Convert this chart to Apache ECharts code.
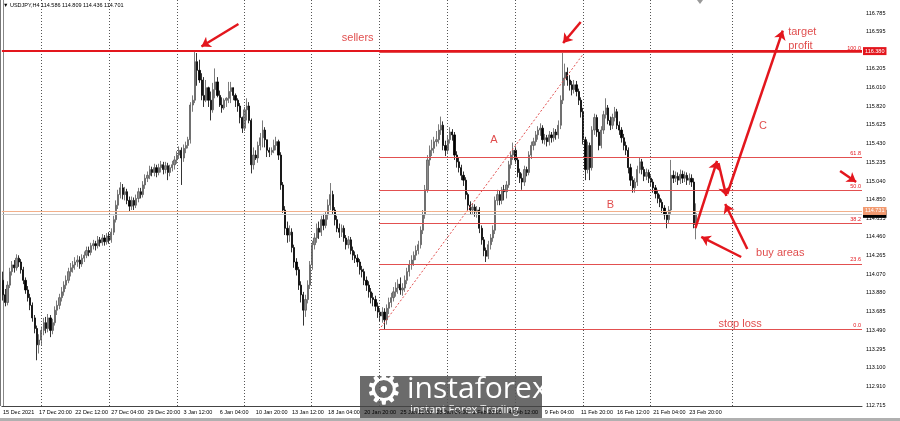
<!DOCTYPE html>
<html><head><meta charset="utf-8">
<script src="https://cdn.jsdelivr.net/npm/echarts@6/dist/echarts.min.js"></script>
<style>html,body{margin:0;padding:0;background:#fff}#c{width:900px;height:421px}</style>
</head><body><div id="c"></div>
<script>
// ---------- DATA ----------
const headerText = '\u25BC USDJPY,H4 114.586 114.809 114.436 114.701';
const totalSlots = 381;           // bar slots on the time axis (incl. chart shift)
const barsPerLabel = 16;
const timeLabels = ['15 Dec 2021','17 Dec 20:00','22 Dec 12:00','27 Dec 04:00','29 Dec 20:00','3 Jan 12:00','6 Jan 04:00','10 Jan 20:00','13 Jan 12:00','18 Jan 04:00','20 Jan 20:00','25 Jan 12:00','28 Jan 04:00','1 Feb 20:00','4 Feb 12:00','9 Feb 04:00','11 Feb 20:00','16 Feb 12:00','21 Feb 04:00','23 Feb 20:00'];
const priceTicks = ['112.715','112.910','113.100','113.295','113.490','113.685','113.880','114.070','114.265','114.460','114.655','114.850','115.040','115.235','115.430','115.625','115.820','116.010','116.205','116.400','116.595','116.785'];
const priceMin = 112.705, priceMax = 116.9205;
// [open, close, low, high]
const candles = [
[114.01,113.86,113.80,114.10],[113.86,113.78,113.74,113.92],[113.78,113.96,113.75,114.00],[113.96,114.10,113.93,114.14],[114.10,114.17,114.06,114.21],
[114.17,114.14,114.09,114.22],[114.14,114.24,114.11,114.28],[114.24,114.20,114.15,114.27],[114.20,114.12,114.08,114.23],[114.12,114.01,113.97,114.15],
[114.01,113.91,113.87,114.04],[113.91,113.83,113.79,113.95],[113.83,113.75,113.70,113.87],[113.75,113.62,113.58,113.78],[113.62,113.51,113.46,113.65],
[113.51,113.34,113.18,113.54],[113.34,113.39,113.25,113.45],[113.39,113.49,113.33,113.53],[113.49,113.57,113.44,113.62],[113.57,113.51,113.46,113.63],
[113.51,113.62,113.47,113.66],[113.62,113.49,113.42,113.65],[113.49,113.57,113.45,113.61],[113.57,113.70,113.54,113.74],[113.70,113.75,113.65,113.80],
[113.75,113.83,113.71,113.87],[113.83,113.89,113.79,113.94],[113.89,113.96,113.85,114.00],[113.96,114.01,113.92,114.06],[114.01,114.10,113.98,114.14],
[114.10,114.14,114.05,114.19],[114.14,114.17,114.09,114.21],[114.17,114.20,114.12,114.25],[114.20,114.22,114.15,114.27],[114.22,114.18,114.13,114.26],
[114.18,114.24,114.15,114.28],[114.24,114.27,114.20,114.31],[114.27,114.32,114.24,114.36],[114.32,114.30,114.26,114.36],[114.30,114.37,114.27,114.40],
[114.37,114.39,114.33,114.43],[114.39,114.37,114.32,114.42],[114.37,114.43,114.34,114.47],[114.43,114.40,114.36,114.46],[114.40,114.45,114.37,114.49],
[114.45,114.41,114.37,114.48],[114.41,114.47,114.38,114.50],[114.47,114.43,114.39,114.51],[114.43,114.51,114.40,114.55],[114.51,114.64,114.48,114.68],
[114.64,114.79,114.61,114.84],[114.79,114.90,114.75,114.95],[114.90,114.97,114.86,115.03],[114.97,114.90,114.85,115.01],[114.90,114.93,114.84,114.98],
[114.93,114.84,114.80,114.96],[114.84,114.78,114.72,114.88],[114.78,114.84,114.74,114.88],[114.84,114.79,114.74,114.87],[114.79,114.86,114.76,114.90],
[114.86,114.93,114.82,114.97],[114.93,114.90,114.86,114.97],[114.90,115.00,114.87,115.04],[115.00,115.07,114.96,115.11],[115.07,115.10,115.03,115.14],
[115.10,115.16,115.06,115.20],[115.16,115.13,115.09,115.19],[115.13,115.18,115.09,115.22],[115.18,115.13,115.08,115.21],[115.13,115.18,115.10,115.22],
[115.18,115.21,115.13,115.25],[115.21,115.16,115.11,115.24],[115.16,115.20,115.12,115.24],[115.20,115.13,115.05,115.23],[115.13,115.18,115.09,115.21],
[115.18,115.21,115.14,115.25],[115.21,115.26,115.16,115.30],[115.26,115.31,115.22,115.35],[115.31,115.36,115.27,115.40],[115.36,115.28,115.00,115.39],
[115.28,115.38,115.24,115.42],[115.38,115.41,115.33,115.45],[115.41,115.47,115.38,115.50],[115.47,115.83,115.43,115.86],[115.83,115.88,115.76,115.93],
[115.88,116.28,115.85,116.38],[116.28,116.19,116.03,116.37],[116.19,116.09,116.06,116.30],[116.09,115.93,115.88,116.16],[115.93,115.88,115.81,116.12],
[115.88,116.01,115.86,116.09],[116.01,115.88,115.81,116.02],[115.88,115.78,115.67,115.97],[115.78,115.99,115.75,116.06],[115.99,116.07,115.90,116.21],
[116.07,115.93,115.91,116.12],[115.93,115.83,115.81,115.98],[115.83,115.80,115.75,115.91],[115.80,115.88,115.78,115.90],[115.88,115.90,115.81,115.91],
[115.90,115.97,115.85,116.07],[115.97,116.01,115.85,116.07],[116.01,115.93,115.88,115.99],[115.93,115.88,115.81,115.95],[115.88,115.82,115.76,115.90],
[115.82,115.70,115.64,115.85],[115.70,115.59,115.54,115.71],[115.59,115.78,115.56,115.81],[115.78,115.82,115.67,115.90],[115.82,115.67,115.64,115.86],
[115.67,115.21,115.12,115.69],[115.21,115.31,115.16,115.39],[115.31,115.28,115.26,115.36],[115.28,115.41,115.23,115.45],[115.41,115.49,115.36,115.54],
[115.49,115.57,115.39,115.67],[115.57,115.47,115.39,115.60],[115.47,115.36,115.29,115.47],[115.36,115.34,115.29,115.39],[115.34,115.36,115.31,115.39],
[115.36,115.41,115.33,115.47],[115.41,115.45,115.36,115.50],[115.45,115.31,115.26,115.47],[115.31,115.00,114.95,115.34],[115.00,114.74,114.71,115.03],
[114.74,114.55,114.48,114.78],[114.55,114.48,114.40,114.62],[114.48,114.51,114.41,114.58],[114.51,114.35,114.30,114.55],[114.35,114.20,114.14,114.38],
[114.20,114.12,114.06,114.24],[114.12,113.96,113.91,114.15],[113.96,113.86,113.78,114.00],[113.86,113.70,113.54,113.89],[113.70,113.81,113.63,113.86],
[113.81,113.96,113.77,114.01],[113.96,114.17,113.92,114.21],[114.17,114.38,114.12,114.42],[114.38,114.45,114.33,114.50],[114.45,114.55,114.40,114.60],
[114.55,114.51,114.44,114.62],[114.51,114.64,114.47,114.68],[114.64,114.58,114.53,114.70],[114.58,114.69,114.55,114.73],[114.69,114.79,114.64,114.85],
[114.79,114.90,114.74,115.02],[114.90,114.74,114.70,114.94],[114.74,114.64,114.58,114.77],[114.64,114.55,114.51,114.68],[114.55,114.51,114.45,114.60],
[114.51,114.55,114.46,114.59],[114.55,114.45,114.41,114.58],[114.45,114.38,114.33,114.48],[114.38,114.43,114.34,114.47],[114.43,114.32,114.28,114.46],
[114.32,114.27,114.22,114.36],[114.27,114.24,114.19,114.31],[114.24,114.20,114.15,114.28],[114.20,114.12,114.07,114.23],[114.12,114.10,114.04,114.16],
[114.10,114.01,113.96,114.13],[114.01,113.96,113.90,114.05],[113.96,113.89,113.83,114.00],[113.89,113.83,113.77,113.93],[113.83,113.81,113.74,113.88],
[113.81,113.74,113.69,113.85],[113.74,113.68,113.62,113.78],[113.68,113.64,113.58,113.72],[113.64,113.68,113.57,113.73],[113.68,113.60,113.50,113.72],
[113.60,113.72,113.55,113.76],[113.72,113.78,113.66,113.83],[113.78,113.83,113.73,113.88],[113.83,113.89,113.79,113.94],[113.89,113.93,113.84,113.99],
[113.93,113.97,113.87,114.02],[113.97,113.91,113.86,114.04],[113.91,113.93,113.85,113.98],[113.93,114.01,113.89,114.06],[114.01,114.10,113.97,114.14],
[114.10,114.17,114.05,114.22],[114.17,114.22,114.12,114.27],[114.22,114.27,114.16,114.31],[114.27,114.32,114.22,114.37],[114.32,114.38,114.28,114.42],
[114.38,114.53,114.34,114.57],[114.53,114.69,114.49,114.74],[114.69,114.95,114.65,115.00],[114.95,115.26,114.92,115.31],[115.26,115.36,115.20,115.41],
[115.36,115.38,115.30,115.47],[115.38,115.45,115.33,115.50],[115.45,115.47,115.40,115.56],[115.47,115.57,115.43,115.63],[115.57,115.62,115.52,115.71],
[115.62,115.41,115.36,115.66],[115.41,115.36,115.30,115.46],[115.36,115.47,115.32,115.51],[115.47,115.55,115.43,115.60],[115.55,115.52,115.46,115.58],
[115.52,115.31,115.26,115.55],[115.31,115.24,115.18,115.35],[115.24,115.18,115.13,115.28],[115.18,115.10,115.05,115.21],[115.10,115.05,114.99,115.14],
[115.05,114.90,114.85,115.08],[114.90,114.79,114.74,114.92],[114.79,114.74,114.69,114.83],[114.74,114.77,114.70,114.81],[114.77,114.72,114.67,114.80],
[114.72,114.74,114.66,114.78],[114.74,114.55,114.50,114.77],[114.55,114.43,114.38,114.58],[114.43,114.32,114.26,114.46],[114.32,114.26,114.20,114.35],
[114.26,114.38,114.23,114.42],[114.38,114.45,114.33,114.49],[114.45,114.53,114.41,114.58],[114.53,114.84,114.49,114.88],[114.84,114.90,114.79,114.95],
[114.90,114.84,114.79,114.94],[114.84,114.95,114.80,114.98],[114.95,114.93,114.84,115.00],[114.93,115.00,114.86,115.04],[115.00,115.21,114.97,115.25],
[115.21,115.31,115.17,115.35],[115.31,115.36,115.26,115.44],[115.36,115.26,115.22,115.40],[115.26,115.13,115.08,115.29],[115.13,115.07,115.02,115.17],
[115.07,115.03,114.95,115.12],[115.03,115.16,114.99,115.20],[115.16,115.13,115.09,115.19],[115.13,115.31,115.10,115.35],[115.31,115.41,115.27,115.45],
[115.41,115.45,115.36,115.49],[115.45,115.52,115.41,115.56],[115.52,115.57,115.47,115.61],[115.57,115.59,115.51,115.64],[115.59,115.47,115.43,115.62],
[115.47,115.49,115.42,115.53],[115.49,115.45,115.40,115.52],[115.45,115.52,115.41,115.56],[115.52,115.49,115.44,115.55],[115.49,115.55,115.45,115.59],
[115.55,115.52,115.47,115.58],[115.52,115.62,115.48,115.67],[115.62,115.88,115.58,115.93],[115.88,116.11,115.84,116.37],[116.11,116.17,116.03,116.26],
[116.17,116.09,116.03,116.22],[116.09,116.04,115.98,116.14],[116.04,115.99,115.93,116.08],[115.99,116.04,115.95,116.09],[116.04,115.97,115.92,116.08],
[115.97,115.88,115.83,116.00],[115.88,115.76,115.70,115.91],[115.76,115.47,115.42,115.80],[115.47,115.16,115.05,115.50],[115.16,115.41,115.12,115.45],
[115.41,115.18,115.05,115.44],[115.18,115.57,115.15,115.61],[115.57,115.70,115.52,115.74],[115.70,115.55,115.50,115.73],[115.55,115.41,115.36,115.58],
[115.41,115.57,115.38,115.61],[115.57,115.73,115.53,115.77],[115.73,115.80,115.69,115.90],[115.80,115.67,115.63,115.83],[115.67,115.62,115.57,115.71],
[115.62,115.70,115.58,115.74],[115.70,115.76,115.66,115.81],[115.76,115.62,115.58,115.79],[115.62,115.57,115.52,115.66],[115.57,115.49,115.44,115.60],
[115.49,115.41,115.36,115.53],[115.41,115.36,115.31,115.45],[115.36,115.18,115.12,115.39],[115.18,115.05,114.99,115.22],[115.05,114.97,114.92,115.09],
[114.97,115.03,114.92,115.07],[115.03,115.16,114.99,115.20],[115.16,115.24,115.12,115.28],[115.24,115.16,115.11,115.27],[115.16,115.09,115.04,115.19],
[115.09,115.13,115.05,115.17],[115.13,115.07,115.02,115.16],[115.07,115.03,114.98,115.10],[115.03,114.97,114.92,115.06],[114.97,114.91,114.86,115.00],
[114.91,114.86,114.81,114.95],[114.86,114.82,114.77,114.90],[114.82,114.76,114.71,114.85],[114.76,114.69,114.64,114.79],[114.69,114.64,114.55,114.72],
[114.64,114.74,114.60,114.78],[114.74,115.10,114.70,115.26],[115.10,115.07,115.02,115.15],[115.07,115.09,115.03,115.14],[115.09,115.05,115.00,115.13],
[115.05,115.11,115.01,115.16],[115.11,115.07,115.02,115.15],[115.07,115.10,115.03,115.14],[115.10,115.05,115.00,115.13],[115.05,115.07,115.00,115.12],
[115.07,115.03,114.98,115.11],[115.03,114.59,114.55,115.07],[114.586,114.701,114.436,114.809]
];
// chart objects (bar position, price)
const gridLineBars = [16.9, 46.9, 77.0, 106.8, 136.7, 166.7, 196.9, 226.8, 256.9, 286.9, 322.9];
const resistancePrice = 116.39, resistanceLabel = '116.380';
const askPrice = 114.735, askLabel = '114.731';
const bidPrice = 114.705, bidLabel = '114.701';
const fibStartBar = 166.7;
const fibNames = ['0.0','23.6','38.2','50.0','61.8','100.0'];
const fibPrices = [113.50, 114.18, 114.60, 114.945, 115.285, 116.38];
const fibTrend = [[167.5, 113.525], [256.7, 116.35]];
const arrows = [
  [[104.3, 116.671], [87.9, 116.438]],
  [[255.9, 116.692], [248.1, 116.474]],
  [[306.7, 114.553], [316.3, 115.249]],
  [[316.9, 115.228], [320.4, 114.885]],
  [[320.8, 114.906], [345.4, 116.603]],
  [[329.7, 114.335], [319.9, 114.802]],
  [[327.0, 114.252], [309.3, 114.460]],
  [[370.8, 115.145], [377.9, 115.031]]
];
const notes = [
  [157.1, 116.526, 'sellers', 'center'],
  [217.5, 115.467, 'A', 'center'],
  [269.1, 114.792, 'B', 'center'],
  [336.6, 115.612, 'C', 'center'],
  [347.8, 116.521, 'target\nprofit', 'left'],
  [333.6, 114.294, 'buy areas', 'left'],
  [316.9, 113.556, 'stop loss', 'left']
];

// ---------- CHART ----------
const RED = '#e3161d';
const slots = [];
for (let i = 0; i < totalSlots; i++) slots.push(String(i));
const smallFont = 'Liberation Sans';

const chart = echarts.init(document.getElementById('c'));
chart.setOption({
  animation: false,
  backgroundColor: '#fff',
  grid: { left: 0, right: 38, top: 0, bottom: 15, containLabel: false },
  xAxis: [
    { type: 'category', data: slots, boundaryGap: true,
      axisLine: { show: true, lineStyle: { color: '#444', width: 1 } },
      axisTick: { show: false },
      splitLine: { show: false },
      axisLabel: { show: true, interval: (idx) => idx % barsPerLabel === 0 && idx / barsPerLabel < timeLabels.length,
        formatter: (v) => { const k = Number(v) / barsPerLabel; return timeLabels[k] || ''; },
        align: 'left', fontSize: 5.5, color: '#000', margin: 3, fontFamily: smallFont, hideOverlap: false } },
    { type: 'value', min: -0.5, max: totalSlots - 0.5, show: false }
  ],
  yAxis: [{ type: 'value', position: 'right', min: priceMin, max: priceMax, scale: true,
    axisLine: { show: true, lineStyle: { color: '#888', width: 1 } },
    axisTick: { show: false },
    axisLabel: { show: true, customValues: priceTicks.map(Number), formatter: (v) => priceTicks.find(t => Math.abs(Number(t) - v) < 1e-6) || v.toFixed(3),
      fontSize: 5.5, color: '#000', margin: 4, fontFamily: smallFont },
    splitLine: { show: false } }],
  graphic: [
    { type: 'text', left: 3, top: 2, z: 100, style: { text: headerText, fontSize: 5.5, fill: '#000', fontFamily: smallFont } },
    { type: 'rect', z: 100, shape: { x: 0, y: 0, width: 1, height: 406 }, style: { fill: '#777' } },
    { type: 'polygon', z: 100, shape: { points: [[697, 0], [703, 0], [700, 4]] }, style: { fill: '#999' } },
    { type: 'rect', z: 100, shape: { x: 0, y: 418, width: 900, height: 3 }, style: { fill: '#b0b0b0' } },
    { type: 'group', z: 110, children: [
      { type: 'rect', shape: { x: 360, y: 376, width: 182, height: 42 }, style: { fill: '#6b6b6b' } },
      { type: 'text', x: 365, y: 372, style: { text: '\u2699', fontSize: 42, fill: '#fff', fontFamily: 'DejaVu Sans' } },
      { type: 'text', x: 407, y: 374, style: { text: 'instaforex', fontSize: 30, fill: '#fff', fontFamily: 'Open Sans' } },
      { type: 'text', x: 410, y: 404, style: { text: 'Instant Forex Trading', fontSize: 11, fill: '#f2f2f2', fontFamily: 'Open Sans' } }
    ] }
  ],
  series: [
    { type: 'line', xAxisIndex: 1, data: [], silent: true, z: 1,
      markLine: { silent: true, symbol: 'none', animation: false, label: { show: false },
        lineStyle: { color: '#555', width: 1, type: [1, 2] },
        data: gridLineBars.map(v => ({ xAxis: v })) } },
    { type: 'candlestick', xAxisIndex: 0, data: candles, z: 3, barWidth: 1.7,
      itemStyle: { color: '#8c8c8c', color0: '#000', borderColor: '#5a5a5a', borderColor0: '#000', borderWidth: 0.8 } },
    { type: 'line', xAxisIndex: 1, data: [], silent: true, z: 5,
      markLine: { silent: true, symbol: 'none', animation: false,
        data: [
          { yAxis: bidPrice, lineStyle: { color: '#c8c8c8', width: 1, type: 'solid' },
            label: { show: true, position: 'end', distance: 1, formatter: bidLabel, backgroundColor: '#000', color: '#fff', fontSize: 5.5, padding: [1, 2], fontFamily: smallFont } },
          { yAxis: askPrice, lineStyle: { color: '#f3b08a', width: 1, type: 'solid' },
            label: { show: true, position: 'end', distance: 1, formatter: askLabel, backgroundColor: '#f29a70', color: '#fff', fontSize: 5.5, padding: [1, 2], fontFamily: smallFont } },
          { yAxis: resistancePrice, lineStyle: { color: RED, width: 2, type: 'solid' },
            label: { show: true, position: 'end', distance: 1, formatter: resistanceLabel, backgroundColor: RED, color: '#fff', fontSize: 5.5, padding: [1, 2], fontFamily: smallFont } }
        ].concat(fibPrices.map((p, k) => [
          { coord: [fibStartBar, p], lineStyle: { color: '#e25050', width: 1, type: 'solid' },
            label: { show: true, position: 'insideEndTop', distance: 1, formatter: fibNames[k], color: RED, fontSize: 5.5, fontFamily: smallFont } },
          { coord: [totalSlots - 0.5, p] }
        ])) } },
    { type: 'lines', coordinateSystem: 'cartesian2d', xAxisIndex: 1, yAxisIndex: 0, z: 6, silent: true,
      symbol: 'none', lineStyle: { color: '#e25050', width: 1, type: [2, 2], opacity: 1 },
      data: [{ coords: fibTrend }] },
    { type: 'lines', coordinateSystem: 'cartesian2d', xAxisIndex: 1, yAxisIndex: 0, z: 7, silent: true,
      symbol: ['none', 'arrow'], symbolSize: 9, lineStyle: { color: RED, width: 2.5, opacity: 1, curveness: 0 },
      data: arrows.map(a => ({ coords: a })) },
    { type: 'scatter', xAxisIndex: 1, yAxisIndex: 0, z: 8, symbolSize: 0, silent: true,
      label: { show: true, position: 'inside', formatter: '{b}', color: '#d81e1e', fontSize: 11, fontFamily: 'Liberation Sans', lineHeight: 14 },
      data: notes.map(n => ({ value: [n[0], n[1]], name: n[2], label: { align: n[3] } })) }
  ]
});
</script></body></html>
